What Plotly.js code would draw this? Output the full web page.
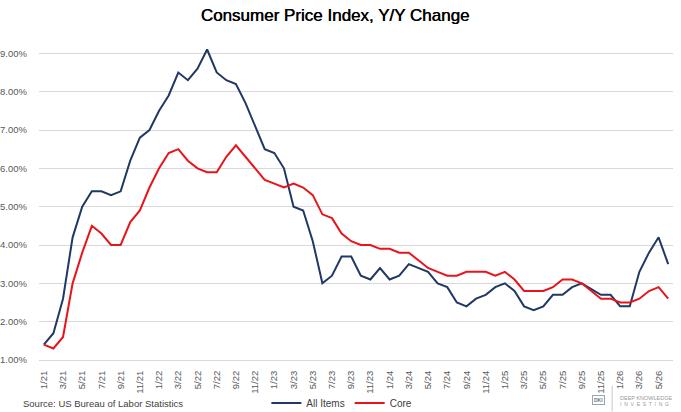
<!DOCTYPE html>
<html>
<head>
<meta charset="utf-8">
<script src="https://cdn.plot.ly/plotly-3.0.1.min.js"></script>
<style>
html, body { margin: 0; padding: 0; background: #fff; }
#chart { width: 681px; height: 412px; }
</style>
</head>
<body>
<div id="chart"></div>
<script>
// months on the category axis
var months = [
  '1/21','2/21','3/21','4/21','5/21','6/21','7/21','8/21','9/21','10/21','11/21','12/21',
  '1/22','2/22','3/22','4/22','5/22','6/22','7/22','8/22','9/22','10/22','11/22','12/22',
  '1/23','2/23','3/23','4/23','5/23','6/23','7/23','8/23','9/23','10/23','11/23','12/23',
  '1/24','2/24','3/24','4/24','5/24','6/24','7/24','8/24','9/24','10/24','11/24','12/24',
  '1/25','2/25','3/25','4/25','5/25','6/25','7/25','8/25','9/25','10/25','11/25','12/25',
  '1/26','2/26','3/26','4/26','5/26','6/26'
];

// CPI all items, y/y %
var allItems = [
  1.4, 1.7, 2.6, 4.2, 5.0, 5.4, 5.4, 5.3, 5.4, 6.2, 6.8, 7.0,
  7.5, 7.9, 8.5, 8.3, 8.6, 9.1, 8.5, 8.3, 8.2, 7.7, 7.1, 6.5,
  6.4, 6.0, 5.0, 4.9, 4.1, 3.0, 3.2, 3.7, 3.7, 3.2, 3.1, 3.4,
  3.1, 3.2, 3.5, 3.4, 3.3, 3.0, 2.9, 2.5, 2.4, 2.6, 2.7, 2.9,
  3.0, 2.8, 2.4, 2.3, 2.4, 2.7, 2.7, 2.9, 3.0, 2.85, 2.7, 2.7,
  2.4, 2.4, 3.3, 3.8, 4.2, 3.5
];

// core CPI, y/y %
var core = [
  1.4, 1.3, 1.6, 3.0, 3.8, 4.5, 4.3, 4.0, 4.0, 4.6, 4.9, 5.5,
  6.0, 6.4, 6.5, 6.2, 6.0, 5.9, 5.9, 6.3, 6.6, 6.3, 6.0, 5.7,
  5.6, 5.5, 5.6, 5.5, 5.3, 4.8, 4.7, 4.3, 4.1, 4.0, 4.0, 3.9,
  3.9, 3.8, 3.8, 3.6, 3.4, 3.3, 3.2, 3.2, 3.3, 3.3, 3.3, 3.2,
  3.3, 3.1, 2.8, 2.8, 2.8, 2.9, 3.1, 3.1, 3.0, 2.8, 2.6, 2.6,
  2.5, 2.5, 2.6, 2.8, 2.9, 2.6
];

// label every other month
var labelMonths = months.filter(function(m, i) { return i % 2 === 0; });

var font = 'Liberation Sans, Arial, sans-serif';

var traces = [
  {
    x: months, y: allItems, name: 'All Items', type: 'scatter', mode: 'lines',
    line: {color: '#203864', width: 2}
  },
  {
    x: months, y: core, name: 'Core', type: 'scatter', mode: 'lines',
    line: {color: '#e8141b', width: 2}
  }
];

var layout = {
  width: 681,
  height: 412,
  margin: {l: 39, r: 8, t: 38, b: 52},
  paper_bgcolor: '#fff',
  plot_bgcolor: '#fff',
  font: {family: font, color: '#595959', size: 10},
  title: {
    text: 'Consumer Price Index, Y/Y Change',
    // a thin shadow thickens the strokes a little, like the semi-bold original
    font: {family: font, size: 17, color: '#000', shadow: '0.45px 0 0 #000'},
    x: 0.492, xanchor: 'center',
    y: 0.963, yanchor: 'middle',
    automargin: false
  },
  showlegend: true,
  legend: {
    orientation: 'h',
    xref: 'container', yref: 'container',
    x: 0.502, xanchor: 'center',
    y: 0.022, yanchor: 'middle',
    font: {family: font, size: 10, color: '#404040'},
    bgcolor: 'rgba(0,0,0,0)'
  },
  xaxis: {
    type: 'category',
    automargin: false,
    range: [-0.5, months.length - 0.5],
    tickmode: 'array',
    tickvals: labelMonths,
    ticktext: labelMonths,
    tickangle: -90,
    ticks: '',
    ticklabelstandoff: 6,
    tickfont: {family: font, size: 9.5, color: '#595959'},
    showgrid: false,
    zeroline: false,
    showline: true,
    linecolor: '#d9d9d9',
    linewidth: 1
  },
  // tick marks on the boundaries between label pairs
  xaxis2: {
    type: 'linear',
    automargin: false,
    overlaying: 'x',
    anchor: 'y',
    side: 'bottom',
    range: [-0.5, months.length - 0.5],
    tickmode: 'linear',
    tick0: -0.5,
    dtick: 2,
    ticks: 'outside',
    ticklen: 4,
    tickcolor: '#d9d9d9',
    showticklabels: false,
    showgrid: false,
    zeroline: false,
    showline: false
  },
  yaxis: {
    automargin: false,
    range: [1, 9.4],
    tickmode: 'linear',
    tick0: 1,
    dtick: 1,
    tickformat: '.2f',
    ticksuffix: '%',
    ticks: '',
    ticklabelstandoff: 11,
    tickfont: {family: font, size: 9.5, color: '#595959'},
    gridcolor: '#d9d9d9',
    gridwidth: 1,
    zeroline: false,
    showline: false
  },
  annotations: [
    {
      text: 'Source: US Bureau of Labor Statistics',
      xref: 'paper', yref: 'paper',
      x: -0.028, xanchor: 'left',
      y: -0.134, yanchor: 'middle',
      showarrow: false,
      font: {family: font, size: 9.5, color: '#404040'}
    },
    {
      text: '<b>DKI</b>',
      xref: 'paper', yref: 'paper',
      x: 0.883, xanchor: 'center',
      y: -0.125, yanchor: 'middle',
      showarrow: false,
      bordercolor: '#9aa3b5', borderwidth: 1, borderpad: 1,
      font: {family: font, size: 5, color: '#6a7690'}
    },
    {
      text: 'DEEP KNOWLEDGE',
      xref: 'paper', yref: 'paper',
      x: 0.914, xanchor: 'left',
      y: -0.118, yanchor: 'middle',
      showarrow: false,
      font: {family: font, size: 5.5, color: '#9a9a9a'}
    },
    {
      text: 'I  N  V  E  S  T  I  N  G',
      xref: 'paper', yref: 'paper',
      x: 0.914, xanchor: 'left',
      y: -0.138, yanchor: 'middle',
      showarrow: false,
      font: {family: font, size: 5, color: '#9a9a9a'}
    }
  ],
  shapes: [
    {
      type: 'line', xref: 'paper', yref: 'paper',
      x0: 0.904, x1: 0.904, y0: -0.08, y1: -0.16,
      line: {color: '#c8c8c8', width: 1}
    }
  ]
};

Plotly.newPlot('chart', traces, layout, {displayModeBar: false, staticPlot: true});
</script>
</body>
</html>
